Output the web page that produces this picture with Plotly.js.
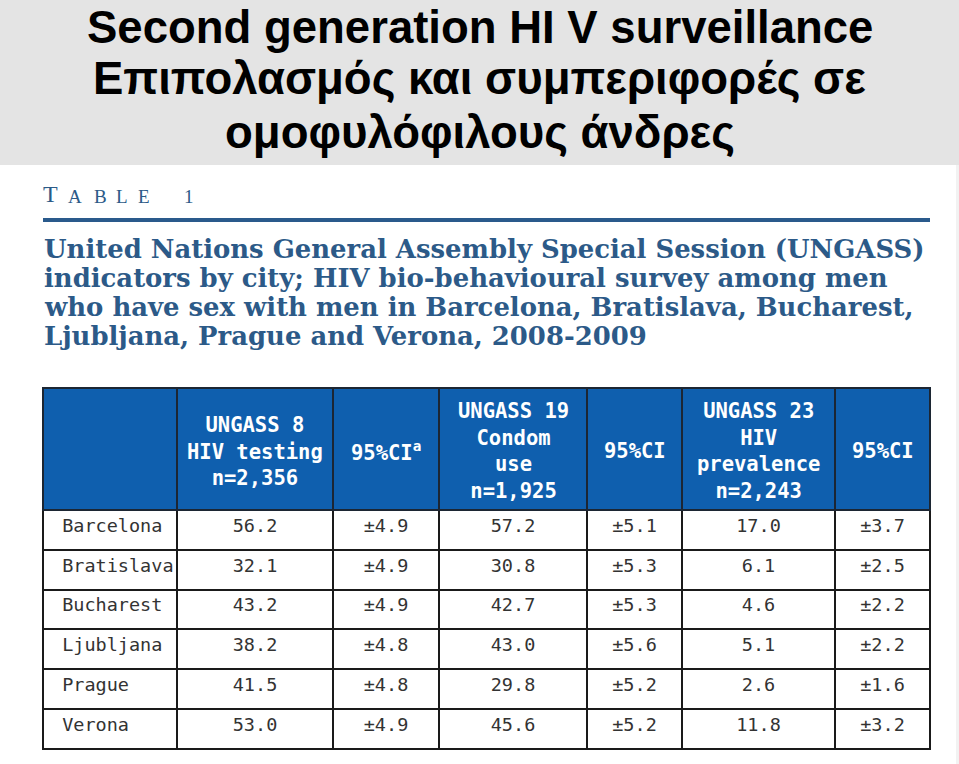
<!DOCTYPE html>
<html>
<head>
<meta charset="utf-8">
<script src="https://cdn.plot.ly/plotly-3.0.1.min.js"></script>
<style>html,body{margin:0;padding:0;background:#fff;}#chart{width:959px;height:764px;}</style>
</head>
<body>
<div id="chart"></div>
<script>
// ---- data ----
const titleLines = [
  "Second generation HI V surveillance",
  "Επιπολασμός και συμπεριφορές σε",
  "ομοφυλόφιλους άνδρες"
];
const tableLabel = ["T", "A", "B", "L", "E", "1"];
const captionLines = [
  "United Nations General Assembly Special Session (UNGASS)",
  "indicators by city; HIV bio-behavioural survey among men",
  "who have sex with men in Barcelona, Bratislava, Bucharest,",
  "Ljubljana, Prague and Verona, 2008-2009"
];
const headers = [
  "",
  "UNGASS 8<br>HIV testing<br>n=2,356",
  "95%CI<sup>a</sup>",
  "UNGASS 19<br>Condom<br>use<br>n=1,925",
  "95%CI",
  "UNGASS 23<br>HIV<br>prevalence<br>n=2,243",
  "95%CI"
];
const cities = ["Barcelona", "Bratislava", "Bucharest", "Ljubljana", "Prague", "Verona"];
const hivTesting = ["56.2", "32.1", "43.2", "38.2", "41.5", "53.0"];
const hivTestingCI = ["±4.9", "±4.9", "±4.9", "±4.8", "±4.8", "±4.9"];
const condomUse = ["57.2", "30.8", "42.7", "43.0", "29.8", "45.6"];
const condomUseCI = ["±5.1", "±5.3", "±5.3", "±5.6", "±5.2", "±5.2"];
const hivPrevalence = ["17.0", "6.1", "4.6", "5.1", "2.6", "11.8"];
const hivPrevalenceCI = ["±3.7", "±2.5", "±2.2", "±2.2", "±1.6", "±3.2"];

// ---- layout constants ----
const W = 959, H = 764;
const colWidths = [134, 156, 106, 148, 95, 153, 95];
const tblLeft = 43, tblRight = 930, tblTop = 388;
const headerH = 122, rowH = 39.8;
const px = x => x / W;
const py = y => 1 - y / H;

const annotations = [];
const titleY = [27, 79, 132];
titleLines.forEach((t, i) => annotations.push({
  text: "<b>" + t + "</b>", x: 0.5, y: py(titleY[i]), xref: "paper", yref: "paper",
  xanchor: "center", yanchor: "middle", showarrow: false,
  font: {family: "Liberation Sans, Arial, sans-serif", size: 45.5, color: "#000"}
}));
// "TABLE 1" in small caps, letter-spaced
const labelX = [41, 66, 92, 114, 136, 182];
tableLabel.forEach((ch, i) => annotations.push({
  text: ch, x: px(labelX[i]), y: py(209), xref: "paper", yref: "paper",
  xanchor: "left", yanchor: "bottom", showarrow: false,
  font: {family: "Liberation Serif, serif", size: i === 0 ? 24 : 19, color: "#2c5a88"}
}));
const capY = [249, 278, 307, 336];
captionLines.forEach((t, i) => annotations.push({
  text: "<b>" + t + "</b>", x: px(42), y: py(capY[i]), xref: "paper", yref: "paper",
  xanchor: "left", yanchor: "middle", showarrow: false,
  font: {family: "DejaVu Serif, serif", size: 25.9, color: "#2c5a88"}
}));
// header text
const totalW = colWidths.reduce((a, b) => a + b, 0);
let acc = 0;
headers.forEach((h, i) => {
  const cx = tblLeft + (acc + colWidths[i] / 2) * (tblRight - tblLeft) / totalW;
  acc += colWidths[i];
  if (!h) return;
  annotations.push({
    text: "<b>" + h + "</b>", x: px(cx), y: py(tblTop + headerH / 2 + 2), xref: "paper", yref: "paper",
    xanchor: "center", yanchor: "middle", showarrow: false,
    font: {family: "DejaVu Sans Mono, monospace", size: 20.5, color: "#ffffff"}
  });
});

const trace = {
  type: "table",
  domain: {x: [px(tblLeft), px(tblRight)], y: [0, py(tblTop)]},
  columnwidth: colWidths,
  header: {
    values: headers.map(() => ""),
    height: headerH,
    fill: {color: "#0f5fae"},
    line: {color: "#1c2633", width: 2}
  },
  cells: {
    values: [cities.map(c => "\u00A0" + c), hivTesting, hivTestingCI, condomUse, condomUseCI, hivPrevalence, hivPrevalenceCI],
    align: ["left", "center", "center", "center", "center", "center", "center"],
    height: rowH,
    fill: {color: "#ffffff"},
    line: {color: "#1a1a1a", width: 2},
    font: {family: "DejaVu Sans Mono, monospace", size: 18.5, color: "#333333"}
  }
};

const layout = {
  width: W, height: H,
  margin: {l: 0, r: 0, t: 0, b: 0},
  paper_bgcolor: "#ffffff",
  showlegend: false,
  shapes: [
    {type: "rect", xref: "paper", yref: "paper", x0: 0, x1: 1, y0: py(165), y1: 1, fillcolor: "#e4e4e4", line: {width: 0}, layer: "below"},
    {type: "rect", xref: "paper", yref: "paper", x0: px(956), x1: 1, y0: 0, y1: py(165), fillcolor: "#f2f2f2", line: {width: 0}, layer: "below"},
    {type: "line", xref: "paper", yref: "paper", x0: px(43), x1: px(930), y0: py(220), y1: py(220), line: {color: "#2a5a8c", width: 4}}
  ],
  annotations: annotations
};

Plotly.newPlot("chart", [trace], layout, {staticPlot: true, displayModeBar: false});
</script>
</body>
</html>
